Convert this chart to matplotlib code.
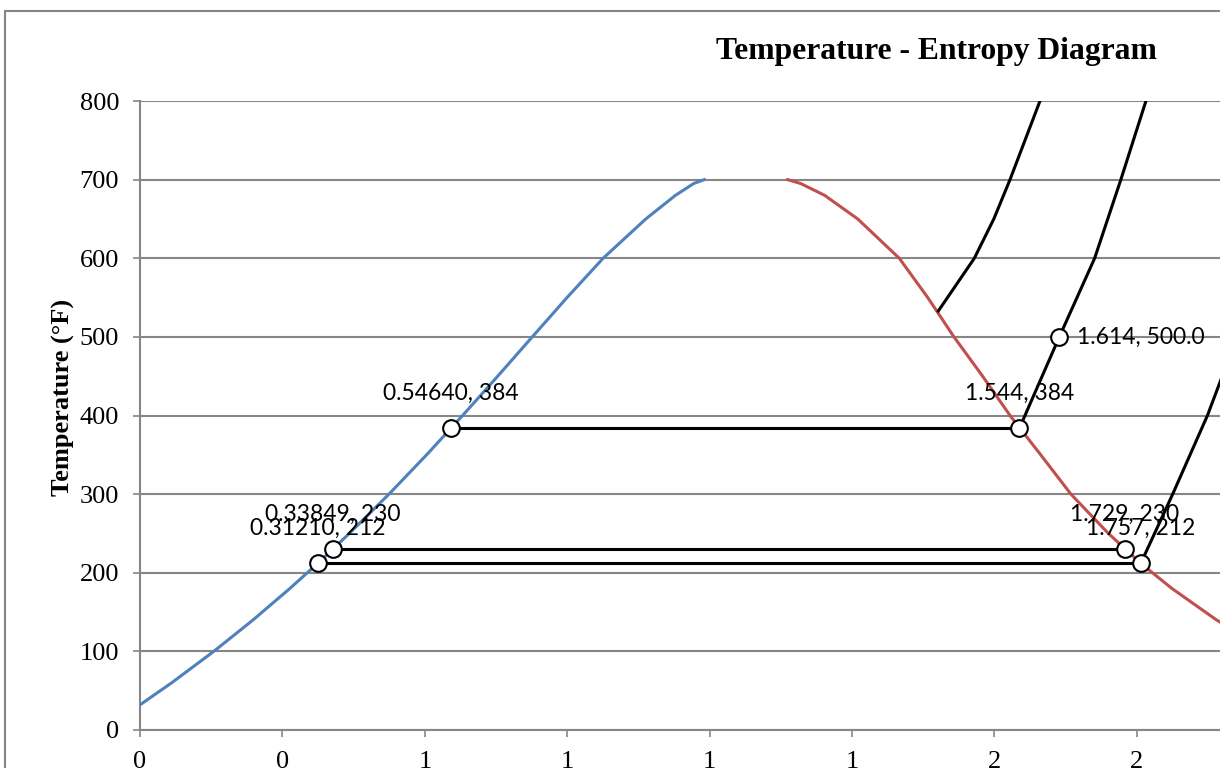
import numpy as np
import matplotlib.pyplot as plt
from matplotlib.patches import Rectangle

# saturation dome (T in F, s in Btu/lbm-R)
temp_sat = [32, 60, 100, 140, 180, 212, 250, 300, 350, 400, 450, 500, 550, 600, 650, 680, 695, 700]
s_liquid = [0.0000, 0.0555, 0.1295, 0.1985, 0.2631, 0.3121, 0.3675, 0.4371, 0.5032, 0.5664,
            0.6280, 0.6887, 0.7497, 0.8131, 0.8880, 0.9400, 0.9720, 0.9905]
s_vapor = [2.1873, 2.0946, 1.9826, 1.8899, 1.8117, 1.7568, 1.7001, 1.6343, 1.5813, 1.5274,
           1.4793, 1.4290, 1.3830, 1.3330, 1.2600, 1.2020, 1.1600, 1.1370]

# constant pressure lines in the superheated region
t_hi = [533, 600, 650, 700, 800, 900]
s_hi = [1.4016, 1.4648, 1.4990, 1.5274, 1.5800, 1.6257]
t_mid = [384, 500, 600, 700, 800, 900]
s_mid = [1.544, 1.614, 1.676, 1.722, 1.766, 1.806]
t_low = [212, 300, 400, 500, 600]
s_low = [1.757, 1.813, 1.874, 1.926, 1.972]

# horizontal lines across the dome
rungs_t = [212, 230, 384]
rungs_s_left = [0.31210, 0.33849, 0.54640]
rungs_s_right = [1.757, 1.729, 1.544]

point_s = [0.31210, 1.757, 0.33849, 1.729, 0.54640, 1.544, 1.614]
point_t = [212, 212, 230, 230, 384, 384, 500]
point_labels = ['0.31210, 212', '1.757, 212', '0.33849, 230', '1.729, 230',
                '0.54640, 384', '1.544, 384', '1.614, 500.0']

x_ticks = [0, 0.25, 0.5, 0.75, 1.0, 1.25, 1.5, 1.75, 2.0]
x_tick_labels = ['0', '0', '1', '1', '1', '1', '2', '2', '2']
y_ticks = [0, 100, 200, 300, 400, 500, 600, 700, 800]

W, H = 1220, 768
fig = plt.figure(figsize=(W / 100, H / 100), dpi=100)
ax = fig.add_axes([140 / W, 38 / H, (1279.2 - 140) / W, 629 / H])

grid_col = '#868686'
ax.plot(s_liquid, temp_sat, color='#4F81BD', lw=2.2, zorder=3, solid_joinstyle='round')
ax.plot(s_vapor, temp_sat, color='#C0504D', lw=2.2, zorder=3, solid_joinstyle='round')
ax.plot(s_hi, t_hi, color='black', lw=2.2, zorder=4)
ax.plot(s_mid, t_mid, color='black', lw=2.2, zorder=4)
ax.plot(s_low, t_low, color='black', lw=2.2, zorder=4)
for t, sl, sr in zip(rungs_t, rungs_s_left, rungs_s_right):
    ax.plot([sl, sr], [t, t], color='black', lw=2.2, zorder=4)

ax.plot(point_s, point_t, ls='none', marker='o', ms=12, mfc='white', mec='black',
        mew=1.5, zorder=5)

lab_font = dict(family=['Lato', 'DejaVu Sans'], fontsize=16.5, color='black', zorder=6)
for s, t, lab in zip(point_s, point_t, point_labels):
    if lab.startswith('1.614'):
        ax.annotate(lab, (s, t), xytext=(13, 0), textcoords='offset points',
                    ha='left', va='center', annotation_clip=False, **lab_font)
    else:
        ax.annotate(lab, (s, t), xytext=(0, 25), textcoords='offset points',
                    ha='center', va='center', **lab_font)

ax.set_xlim(0, 2.0)
ax.set_ylim(0, 800)
ax.set_xticks(x_ticks)
ax.set_xticklabels(x_tick_labels)
ax.set_yticks(y_ticks)
ax.yaxis.grid(True, color=grid_col, lw=1.5)
ax.set_axisbelow(True)
for sp in ['top', 'right']:
    ax.spines[sp].set_visible(False)
for sp in ['left', 'bottom']:
    ax.spines[sp].set_color(grid_col)
    ax.spines[sp].set_linewidth(1.5)
ax.tick_params(axis='both', direction='out', length=5, width=1.2, color=grid_col,
               labelsize=19, pad=10)
for lab in ax.get_xticklabels() + ax.get_yticklabels():
    lab.set_family('Liberation Serif')

fig.text(63 / W, 1 - 397 / H, 'Temperature (°F)', family='Liberation Serif',
         fontweight='bold', fontsize=19, rotation=90, ha='center', va='center')
fig.text(936 / W, 1 - 52 / H, 'Temperature - Entropy Diagram', family='Liberation Serif',
         fontweight='bold', fontsize=22.8, ha='center', va='center')

fig.add_artist(Rectangle((5 / W, -0.1), 1.2, 1.1 - 11 / H, transform=fig.transFigure,
                         fill=False, edgecolor=grid_col, lw=1.5))

fig.savefig('out.png', dpi=100)
